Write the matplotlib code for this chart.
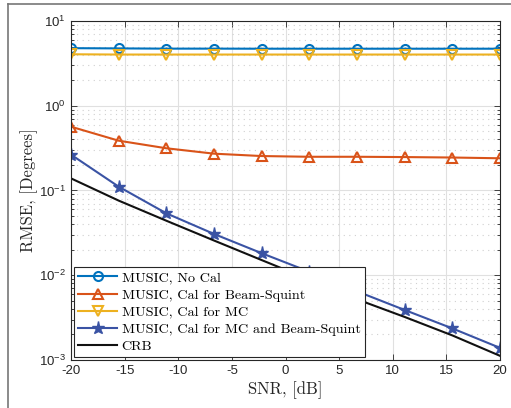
import numpy as np
import matplotlib
matplotlib.use("Agg")
import matplotlib.pyplot as plt
from matplotlib.lines import Line2D
from matplotlib.ticker import LogLocator, NullFormatter

# SNR points (dB)
snr = np.linspace(-20, 20, 10)

# RMSE values (degrees)
rmse_nocal = [4.78, 4.75, 4.72, 4.72, 4.71, 4.71, 4.71, 4.71, 4.71, 4.71]
rmse_bs = [0.566, 0.387, 0.315, 0.272, 0.255, 0.25, 0.25, 0.248, 0.245, 0.24]
rmse_mc = [4.05, 4.02, 4.02, 4.02, 4.02, 4.02, 4.02, 4.02, 4.02, 4.02]
rmse_both = [0.265, 0.111, 0.0538, 0.0307, 0.0182, 0.0110, 0.00646, 0.00389, 0.00236, 0.00139]
crb = [0.139, 0.076, 0.044, 0.0257, 0.0151, 0.0089, 0.0052, 0.00322, 0.00195, 0.00112]

labels = ["MUSIC, No Cal", "MUSIC, Cal for Beam-Squint", "MUSIC, Cal for MC",
          "MUSIC, Cal for MC and Beam-Squint", "CRB"]

plt.rcParams["mathtext.fontset"] = "cm"
plt.rcParams["axes.unicode_minus"] = False
plt.rcParams["font.family"] = ["Liberation Sans", "DejaVu Sans"]
serif = ["cmr10", "DejaVu Serif"]

fig = plt.figure(figsize=(5.11, 4.08), dpi=100)
ax = fig.add_axes([71 / 511, 1 - 360 / 408, 429 / 511, 339 / 408])

lw = 1.5
ax.plot(snr, rmse_nocal, color="#0072BD", lw=lw, marker="o", ms=6.5, mfc="none", mew=1.5)
ax.plot(snr, rmse_bs, color="#D95319", lw=lw, marker="^", ms=7, mfc="none", mew=1.5)
ax.plot(snr, rmse_mc, color="#EDB120", lw=lw, marker="v", ms=7, mfc="none", mew=1.5)
ax.plot(snr, rmse_both, color="#3A53A4", lw=lw, marker="*", ms=9.5, mew=1)
ax.plot(snr, crb, color="#111111", lw=lw)

ax.set_yscale("log")
ax.set_xlim(-20, 20)
ax.set_ylim(1e-3, 1e1)
ax.set_xticks(np.arange(-20, 21, 5))
ax.yaxis.set_minor_locator(LogLocator(base=10, subs=np.arange(2, 10), numticks=20))
ax.yaxis.set_minor_formatter(NullFormatter())

ax.grid(True, which="major", color="#e0e0e0", lw=0.8, ls="-")
ax.grid(True, which="minor", axis="y", color="#d0d0d0", lw=0.8, ls=(0, (1, 4)))
ax.set_axisbelow(True)

ax.tick_params(which="both", direction="in", top=True, right=True, labelsize=9.5,
               colors="#262626", labelcolor="#262626")
ax.tick_params(which="major", length=4, width=0.6)
ax.tick_params(which="minor", length=2.5, width=0.6)
for s in ax.spines.values():
    s.set_color("#262626")
    s.set_linewidth(0.8)

ax.set_xlabel("SNR, [dB]", fontsize=12, family=serif, color="#262626", labelpad=3)
ax.set_ylabel("RMSE, [Degrees]", fontsize=12, family=serif, color="#262626", labelpad=1)

handles = ax.get_lines()
leg = ax.legend(handles, labels, loc="lower left", bbox_to_anchor=(0.006, 0.008),
                prop={"family": serif, "size": 10.2},
                fancybox=False, edgecolor="#262626", framealpha=1,
                handlelength=2.8, handletextpad=0.3, borderpad=0.3,
                labelspacing=0.3, borderaxespad=0)
leg.get_frame().set_linewidth(0.8)

# outer frame of the cropped figure
fig.add_artist(Line2D([8 / 511, 1], [1 - 4 / 408, 1 - 4 / 408], color="#777777", lw=1.2))
fig.add_artist(Line2D([8 / 511, 8 / 511], [0, 1 - 4 / 408], color="#777777", lw=1.2))

fig.savefig("out.png", dpi=100)
